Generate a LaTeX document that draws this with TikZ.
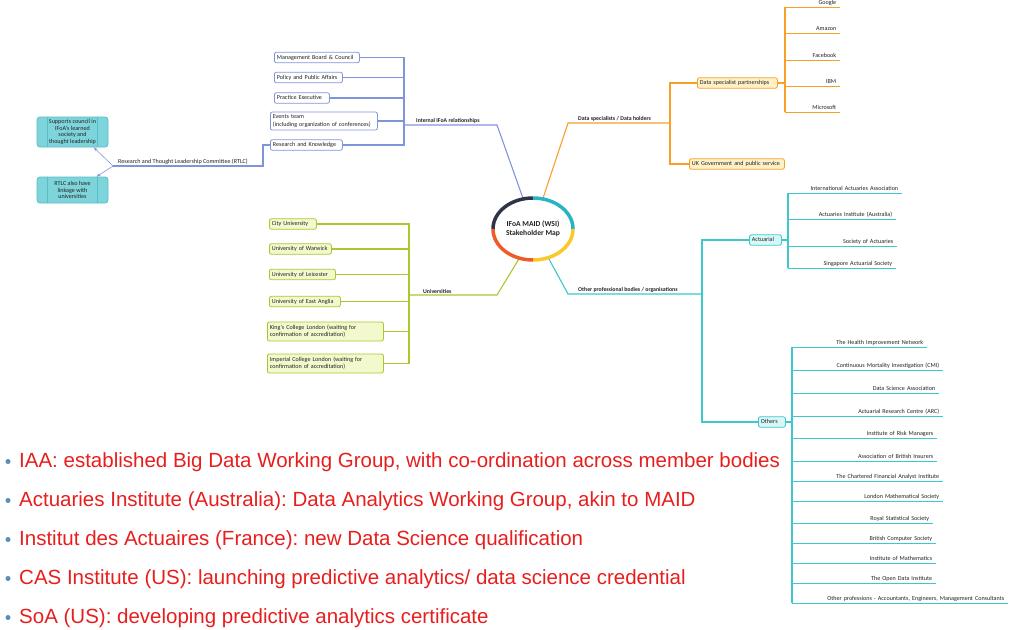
\documentclass[tikz,border=0pt]{standalone}
\usepackage{fontspec}
\setmainfont{Carlito}
\newfontfamily\bulletfont{Liberation Sans}
\usetikzlibrary{arrows.meta,shapes.geometric}
\definecolor{cBlue}{RGB}{128,148,222}
\definecolor{cOrange}{RGB}{247,160,40}
\definecolor{cOrangeFill}{RGB}{255,240,200}
\definecolor{cGreen}{RGB}{168,200,48}
\definecolor{cGreenFill}{RGB}{243,249,205}
\definecolor{cTeal}{RGB}{60,200,205}
\definecolor{cTealFill}{RGB}{215,246,246}
\definecolor{cTealBox}{RGB}{125,212,218}
\definecolor{cTealBoxLine}{RGB}{90,190,200}
\definecolor{cNavy}{RGB}{48,52,72}
\definecolor{cHubTeal}{RGB}{40,180,192}
\definecolor{cHubYellow}{RGB}{250,200,40}
\definecolor{cHubRed}{RGB}{240,90,40}
\definecolor{cRed}{RGB}{232,30,30}
\definecolor{cDot}{RGB}{90,140,180}
\definecolor{cText}{RGB}{35,35,35}
\begin{document}
\frenchspacing
\begin{tikzpicture}[x=1pt,y=-1pt,
  font=\fontsize{6.1}{7.2}\selectfont, text=cText,
  nohy/.style={execute at begin node={\hyphenpenalty=10000\exhyphenpenalty=10000}},
  box/.style={nohy, draw, rounded corners=2pt, line width=0.8pt, align=left, inner xsep=2.5pt, inner ysep=1.2pt, anchor=west, minimum height=10.5pt, text height=4.3pt, text depth=1.3pt},
  box2/.style={nohy, draw, rounded corners=2pt, line width=0.8pt, align=left, inner xsep=2.5pt, inner ysep=1.2pt, anchor=west},
  bbox/.style={box, draw=cBlue, fill=white},
  bbox2/.style={box2, draw=cBlue, fill=white},
  obox/.style={box, draw=cOrange, fill=cOrangeFill},
  gbox/.style={box, draw=cGreen, fill=cGreenFill},
  gbox2/.style={box2, draw=cGreen, fill=cGreenFill},
  tbox/.style={box, draw=cTeal, fill=cTealFill},
  lbox/.style={draw=cTealBoxLine, fill=cTealBox, rounded corners=3pt, line width=0.8pt, align=center, minimum width=71pt, inner sep=1pt, font=\fontsize{6.1}{6.8}\selectfont},
  ttl/.style={anchor=south west, font=\bfseries\fontsize{5.8}{7}\selectfont, inner xsep=0pt, inner ysep=1.2pt},
  leaf/.style={nohy, anchor=south west, align=right, inner xsep=4pt, inner ysep=0.8pt, text height=4.3pt, text depth=1.3pt},
  bline/.style={draw=cBlue, line width=1.1pt},
  oline/.style={draw=cOrange, line width=1.1pt},
  gline/.style={draw=cGreen, line width=1.1pt},
  tline/.style={draw=cTeal, line width=1.1pt},
  bul/.style={font=\bulletfont\fontsize{20.5}{24}\selectfont, text=cRed, inner sep=0pt, anchor=base west},
  dot/.style={circle, fill=cDot, inner sep=0pt, minimum size=5pt}
]
\useasboundingbox (0,0) rectangle (1017,629);

% ---------- hub ----------
\node[ellipse, minimum width=80pt, minimum height=62pt, inner sep=0pt, outer sep=0pt, align=center,
      font=\bfseries\fontsize{7.6}{9}\selectfont] (hub) at (533,229) {IFoA MAID (WSI)\\Stakeholder Map};

% ---------- internal (blue) ----------
\node[bbox, text width=80pt] (mbc) at (274,57.5) {Management Board \& Council};
\node[bbox, text width=63pt] (ppa) at (274,77.5) {Policy and Public Affairs};
\node[bbox, text width=50pt] (pe) at (274,98) {Practice Executive};
\node[bbox2, text width=102pt, minimum height=18pt] (et) at (270,121) {Events team\\(including organization of conferences)};
\node[bbox, text width=67pt] (rk) at (270,145) {Research and Knowledge};
\coordinate (jI) at (404,125);
\coordinate (kI) at (497,125);
\node[ttl] (lI) at (416,125) {Internal IFoA relationships};
\draw[bline] (hub.108) -- (kI) -- (jI);
\foreach \b in {mbc,ppa,pe,et,rk} {\draw[bline] (\b.east) -| (jI);}

% RTLC
\coordinate (rJ) at (113,166);
\node[anchor=south west, inner xsep=0pt, inner ysep=1.2pt] (lR) at (118,166) {Research and Thought Leadership Committee (RTLC)};
\draw[bline] (rk.west) -- ++(-7,0) |- (rJ);
\node[lbox, minimum height=30pt] (sup) at (72.5,132) {Supports council in\\IFoA's learned\\society and\\thought leadership};
\node[lbox, minimum height=26pt] (rtlc) at (72.5,190) {RTLC also have\\linkage with\\universities};
\foreach \b in {sup,rtlc} {
  \draw[cTealBoxLine, line width=0.5pt] ([xshift=11pt]\b.north west) -- ([xshift=11pt]\b.south west);
  \draw[cTealBoxLine, line width=0.5pt] ([xshift=-11pt]\b.north east) -- ([xshift=-11pt]\b.south east);
}
\draw[cBlue, line width=0.6pt, -{Stealth[length=4pt,width=3pt]}] (rJ) -- (sup.-36);
\draw[cBlue, line width=0.6pt, -{Stealth[length=4pt,width=3pt]}] (rJ) -- (rtlc.29);

% ---------- data specialists (orange) ----------
\coordinate (kD) at (568,123);
\coordinate (jD) at (670,123);
\node[ttl] (lD) at (578,123) {Data specialists / Data holders};
\node[obox, text width=75pt] (dsp) at (697,83) {Data specialist partnerships};
\node[obox, text width=90pt] (uk) at (689,164) {UK Government and public service};
\draw[oline] (hub.72) -- (kD) -- (jD);
\draw[oline] (dsp.west) -| (jD);
\draw[oline] (uk.west) -| (jD);
\foreach \n/\y/\e/\txt in {google/7/840/Google, amazon/33/840/Amazon, facebook/60/840/Facebook, ibm/86/840/IBM, microsoft/112/840/Microsoft}{
  \pgfmathsetmacro\w{\e-785-8}
  \node[leaf, text width=\w pt] (\n) at (785,\y) {\txt};
  \draw[draw=cOrange, line width=0.9pt] (\n.south west) -- (\n.south east);
}
\draw[oline] (dsp.east) -- (dsp.east -| google.south west);
\draw[oline] (google.south west) -- (microsoft.south west);

% ---------- universities (green) ----------
\coordinate (kU) at (497,295);
\coordinate (jU) at (409,295);
\node[ttl] (lU) at (423,295) {Universities};
\node[gbox, text width=42pt] (city) at (269,224) {City University};
\node[gbox, text width=57pt] (warwick) at (269,249) {University of Warwick};
\node[gbox, text width=61pt] (leic) at (269,274.5) {University of Leicester};
\node[gbox, text width=66pt] (uea) at (269,301.5) {University of East Anglia};
\node[gbox2, text width=111pt, minimum height=19pt] (kings) at (267,331.5) {King's College London (waiting for\\confirmation of accreditation)};
\node[gbox2, text width=111pt, minimum height=19pt] (imp) at (267,363.5) {Imperial College London (waiting for\\confirmation of accreditation)};
\draw[gline] (hub.-115) -- (kU) -- (jU);
\foreach \b in {city,warwick,leic,uea,kings,imp} {\draw[gline] (\b.east) -| (jU);}

% ---------- other professional bodies (teal) ----------
\coordinate (kO) at (568,294);
\coordinate (jO) at (702,294);
\node[ttl] (lO) at (578,294) {Other professional bodies / organisations};
\node[tbox, text width=27pt] (act) at (749,240) {Actuarial};
\node[tbox, text width=22pt] (othersbox) at (758,422) {Others};
\draw[tline] (hub.-62) -- (kO) -- (jO);
\draw[tline] (act.west) -| (jO);
\draw[tline] (othersbox.west) -| (jO);

\foreach \n/\y/\e/\txt in {iaa/193/902/International Actuaries Association, aia/219/896/Actuaries Institute (Australia), soa/246/897/Society of Actuaries, sas/268/896/Singapore Actuarial Society}{
  \pgfmathsetmacro\w{\e-788-8}
  \node[leaf, text width=\w pt] (\n) at (788,\y) {\txt};
  \draw[draw=cTeal, line width=0.9pt] (\n.south west) -- (\n.south east);
}
\draw[tline] (act.east) -- (act.east -| iaa.south west);
\draw[tline] (iaa.south west) -- (sas.south west);

\foreach \n/\y/\e/\txt in {thin/347/927/The Health Improvement Network,
  cmi/370/943/Continuous Mortality Investigation (CMI),
  dsa/393/939/Data Science Association,
  arc/416/943/Actuarial Research Centre (ARC),
  irm/438/937/Institute of Risk Managers,
  abi/461/937/Association of British Insurers,
  cfa/481/943/The Chartered Financial Analyst Institute,
  lms/501/943/London Mathematical Society,
  rss/523/933/Royal Statistical Society,
  bcs/543/936/British Computer Society,
  iom/563/936/Institute of Mathematics,
  odi/583/936/The Open Data Institute,
  oprof/603/1008/{Other professions - Accountants, Engineers, Management Consultants}}{
  \pgfmathsetmacro\w{\e-792-8}
  \node[leaf, text width=\w pt] (\n) at (792,\y) {\txt};
  \draw[draw=cTeal, line width=0.9pt] (\n.south west) -- (\n.south east);
}
\draw[tline] (othersbox.east) -- (othersbox.east -| thin.south west);
\draw[tline] (thin.south west) -- (oprof.south west);

% ---------- hub ring ----------
\draw[cNavy, line width=3.5pt] (hub.180) arc[start angle=180, end angle=90, x radius=40pt, y radius=31pt];
\draw[cHubTeal, line width=3.5pt] (hub.90) arc[start angle=90, end angle=0, x radius=40pt, y radius=31pt];
\draw[cHubYellow, line width=3.5pt] (hub.0) arc[start angle=0, end angle=-90, x radius=40pt, y radius=31pt];
\draw[cHubRed, line width=3.5pt] (hub.-90) arc[start angle=-90, end angle=-180, x radius=40pt, y radius=31pt];

% ---------- bullets ----------
\node[dot] (d1) at (8,461.5) {};
\node[bul] (b1) at (19,467) {IAA: established Big Data Working Group, with co-ordination across member bodies};
\node[dot] (d2) at (8,500.5) {};
\node[bul] (b2) at (19,506) {Actuaries Institute (Australia): Data Analytics Working Group, akin to MAID};
\node[dot] (d3) at (8,539.5) {};
\node[bul] (b3) at (19,545) {Institut des Actuaires (France): new Data Science qualification};
\node[dot] (d4) at (8,578.5) {};
\node[bul] (b4) at (19,584) {CAS Institute (US): launching predictive analytics/ data science credential};
\node[dot] (d5) at (8,617.5) {};
\node[bul] (b5) at (19,623) {SoA (US): developing predictive analytics certificate};
\end{tikzpicture}
\end{document}
